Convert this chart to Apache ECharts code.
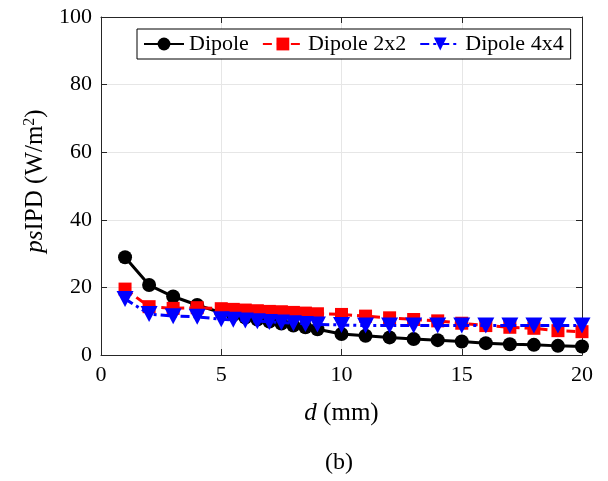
<!DOCTYPE html>
<html>
<head>
<meta charset="utf-8">
<script src="https://cdn.jsdelivr.net/npm/echarts@6/dist/echarts.min.js"></script>
<style>
html,body{margin:0;padding:0;background:#fff;}
#chart{width:608px;height:481px;}
</style>
</head>
<body>
<div id="chart"></div>
<script>
var distances = [1,2,3,4,5,5.5,6,6.5,7,7.5,8,8.5,9,10,11,12,13,14,15,16,17,18,19,20];
var dipole    = [28.9,20.7,17.3,14.8,12.5,11.8,11.1,10.5,9.9,9.3,8.7,8.2,7.6,6.2,5.7,5.2,4.7,4.4,4.0,3.5,3.2,3.0,2.7,2.5];
var dipole2x2 = [19.5,14.3,13.8,14.0,13.7,13.5,13.3,13.1,12.9,12.8,12.6,12.4,12.2,12.0,11.5,11.0,10.5,10.1,9.4,8.7,8.2,7.9,7.2,6.9];
var dipole4x4 = [16.6,12.1,11.5,11.3,10.6,10.4,10.2,10.0,9.8,9.6,9.4,9.2,9.0,8.9,8.7,8.7,8.7,8.7,8.7,8.7,8.7,8.7,8.7,8.7];
var seriesNames = ['Dipole','Dipole 2x2','Dipole 4x4'];
var xTicks = [0,5,10,15,20];
var yTicks = [0,20,40,60,80,100];

function pairs(ys){ return distances.map(function(x,i){ return [x, ys[i]]; }); }

var FONT = 'Liberation Serif';
var chart = echarts.init(document.getElementById('chart'), null, {renderer:'canvas'});
var axisCommon = {
  axisLine:{show:true, onZero:false, lineStyle:{color:'#262626', width:1}},
  axisTick:{show:true, inside:true, length:6, lineStyle:{color:'#262626', width:1}}
};
var option = {
  backgroundColor:'#fff',
  animation:false,
  title:{text:'(b)', left:325, top:451, textStyle:{fontFamily:FONT, fontSize:24, fontWeight:'normal', color:'#000'}, padding:0, itemGap:0},
  grid:{left:101, right:26, top:17, bottom:126},
  legend:{
    left:137, top:29, orient:'horizontal',
    padding:[4,7,4,6], itemGap:13, itemWidth:40, itemHeight:16,
    borderColor:'#000', borderWidth:1, backgroundColor:'#fff',
    textStyle:{fontFamily:FONT, fontSize:22, color:'#000'},
    data:seriesNames
  },
  xAxis:[
    Object.assign({type:'value', min:xTicks[0], max:xTicks[xTicks.length-1], interval:5,
      name:'{i|d} (mm)', nameLocation:'middle', nameGap:46,
      nameTextStyle:{fontFamily:FONT, fontSize:25, color:'#000', rich:{i:{fontFamily:FONT, fontSize:25, fontStyle:'italic', color:'#000'}}},
      axisLabel:{fontFamily:FONT, fontSize:22, color:'#000', margin:9},
      splitLine:{show:true, lineStyle:{color:'#e6e6e6', width:1}}
    }, axisCommon),
    Object.assign({type:'value', position:'top', min:0, max:20, interval:5,
      axisLabel:{show:false}, splitLine:{show:false}}, axisCommon)
  ],
  yAxis:[
    Object.assign({type:'value', min:yTicks[0], max:yTicks[yTicks.length-1], interval:20,
      name:'{i|ps}IPD (W/m{sup|2})', nameLocation:'middle', nameGap:42, nameRotate:90,
      nameTextStyle:{fontFamily:FONT, fontSize:25, color:'#000', padding:[0,0,0,10],
        rich:{i:{fontFamily:FONT, fontSize:25, fontStyle:'italic', color:'#000'},
              sup:{fontFamily:FONT, fontSize:16, color:'#000', padding:[0,0,12,0]}}},
      axisLabel:{fontFamily:FONT, fontSize:22, color:'#000', margin:9},
      splitLine:{show:true, lineStyle:{color:'#e6e6e6', width:1}}
    }, axisCommon),
    Object.assign({type:'value', position:'right', min:0, max:100, interval:20,
      axisLabel:{show:false}, splitLine:{show:false}}, axisCommon)
  ],
  series:[
    {name:seriesNames[0], type:'line', data:pairs(dipole), symbol:'circle', symbolSize:14,
     lineStyle:{color:'#000', width:3}, itemStyle:{color:'#000'}, z:2},
    {name:seriesNames[1], type:'line', data:pairs(dipole2x2), symbol:'rect', symbolSize:13,
     lineStyle:{color:'#ff0000', width:3, type:[9,5]}, itemStyle:{color:'#ff0000'}, z:3},
    {name:seriesNames[2], type:'line', data:pairs(dipole4x4), symbol:'triangle', symbolRotate:180, symbolSize:[17,16],
     lineStyle:{color:'#0000ff', width:3, type:[9,4,3,4]}, itemStyle:{color:'#0000ff'}, z:4}
  ]
};
chart.setOption(option);
</script>
</body>
</html>
